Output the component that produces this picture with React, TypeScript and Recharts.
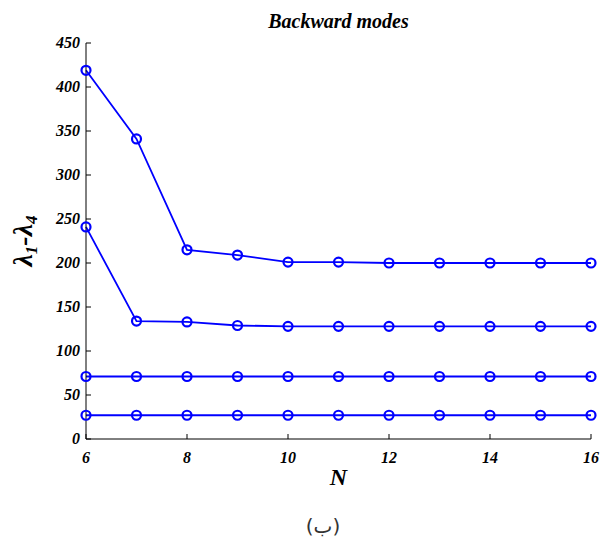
import { LineChart, Line, XAxis, YAxis } from 'recharts'

const nValues = [6, 7, 8, 9, 10, 11, 12, 13, 14, 15, 16]
const mode1 = [419, 341, 215, 209, 201, 201, 200, 200, 200, 200, 200]
const mode2 = [241, 134, 133, 129, 128, 128, 128, 128, 128, 128, 128]
const mode3 = [71, 71, 71, 71, 71, 71, 71, 71, 71, 71, 71]
const mode4 = [27, 27, 27, 27, 27, 27, 27, 27, 27, 27, 27]
const xTicks = [6, 8, 10, 12, 14, 16]
const yTicks = [0, 50, 100, 150, 200, 250, 300, 350, 400, 450]

const data = nValues.map((n, i) => ({ n, m1: mode1[i], m2: mode2[i], m3: mode3[i], m4: mode4[i] }))

const serif = '"Liberation Serif", "Times New Roman", serif'
const fontBI = { fontFamily: serif, fontWeight: 700, fontStyle: 'italic' as const }
const BLUE = '#0000ff'

function XTick({ x, y, payload }: any) {
  return (
    <text x={x} y={y} dy={10} textAnchor="middle" fill="#000"
      fontFamily={serif} fontWeight={700} fontStyle="italic" fontSize={16}>
      {payload.value}
    </text>
  )
}

function YTick({ x, y, payload }: any) {
  return (
    <text x={x} y={y} dy={5} textAnchor="end" fill="#000"
      fontFamily={serif} fontWeight={700} fontStyle="italic" fontSize={16}>
      {payload.value}
    </text>
  )
}

function YLabel({ viewBox }: any) {
  const cx = viewBox.x - 4
  const cy = viewBox.y + viewBox.height / 2
  return (
    <text transform={`translate(${cx},${cy}) rotate(-90)`} textAnchor="middle" fill="#000"
      fontFamily={serif} fontWeight={700} fontStyle="italic" fontSize={28}>
      λ<tspan fontSize={17} dy={5}>1</tspan><tspan dy={-5}>-λ</tspan><tspan fontSize={17} dy={5}>4</tspan>
    </text>
  )
}

export default function App() {
  const dot = { r: 4.5, stroke: BLUE, strokeWidth: 2.2, fill: 'none' }
  const series = ['m1', 'm2', 'm3', 'm4']
  return (
    <div style={{ position: 'absolute', left: 0, top: 0, width: 613, height: 545, background: '#fff' }}>
      <div style={{ position: 'absolute', left: 86, width: 505, top: 10, textAlign: 'center', ...fontBI, fontSize: 20 }}>
        Backward modes
      </div>
      <LineChart width={613} height={545} data={data} margin={{ top: 43, right: 22, left: 36, bottom: 76 }}>
        <XAxis dataKey="n" type="number" domain={[6, 16]} ticks={xTicks} xAxisId="b"
          stroke="#000" tickSize={-5} tickMargin={19} tick={<XTick />} height={30}
          label={{ value: 'N', position: 'insideBottom', offset: -16, fontFamily: serif, fontWeight: 700, fontStyle: 'italic', fontSize: 24, fill: '#000' }} />
        <XAxis dataKey="n" type="number" domain={[6, 16]} xAxisId="t" orientation="top" height={0}
          stroke="#b8b8b8" tick={false} tickLine={false} />
        <YAxis type="number" domain={[0, 450]} ticks={yTicks} yAxisId="l" width={50}
          stroke="#000" tickSize={-5} tickMargin={11} tick={<YTick />}
          label={<YLabel />} />
        <YAxis type="number" domain={[0, 450]} yAxisId="r" orientation="right" width={0}
          stroke="#b8b8b8" tick={false} tickLine={false} />
        {series.map(k => (
          <Line key={k} xAxisId="b" yAxisId="l" dataKey={k} type="linear" stroke={BLUE} strokeWidth={1.8}
            dot={dot} isAnimationActive={false} />
        ))}
      </LineChart>
      <div style={{ position: 'absolute', left: 0, width: 646, top: 514, textAlign: 'center', fontFamily: '"DejaVu Sans", sans-serif', fontSize: 20, color: '#333' }}>
        (ب)
      </div>
    </div>
  )
}
